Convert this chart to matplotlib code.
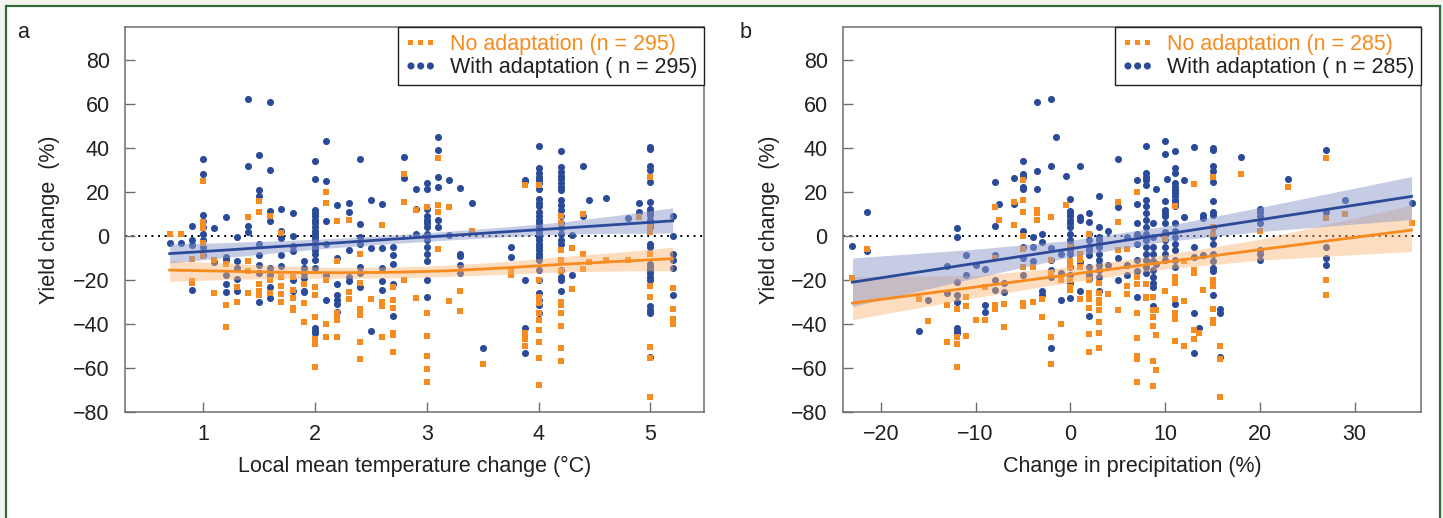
import numpy as np
import matplotlib.pyplot as plt
from matplotlib.patches import Rectangle

plt.rcParams['font.family'] = ['Liberation Sans', 'DejaVu Sans']

orange = '#f68b1f'
blue = '#2c4a9a'

# ---- panel a: local mean temperature change (deg C) ----
temp_x = [0.7, 0.8, 0.9, 1.0, 1.1, 1.2, 1.3, 1.4, 1.5, 1.6, 1.7, 1.8, 1.9, 2.0,
          2.1, 2.2, 2.3, 2.4, 2.5, 2.6, 2.7, 2.8, 2.9, 3.0, 3.1, 3.2, 3.3, 3.4,
          3.5, 3.75, 3.88, 4.0, 4.2, 4.3, 4.4, 4.45, 4.6, 4.8, 4.9, 5.0, 5.2]
temp_with = [
    [-3], [-3], [4.5, -2, -4, -24.5], [35, 28, 9.5, 7, 4, 1, -2, -5, -8.5],
    [3.5, -12], [8.5, -9.5, -11, -17.5, -22, -25.5], [-0.5, -11.5, -14.5, -19.5, -25],
    [62.5, 32, 4.5, 2], [37, 21, 18, -3.5, -8.5, -13, -17, -30],
    [61, 30, 11.5, 7, -14.5, -17.5, -23, -28], [12.5, 2.5, -1, -8.5, -13.5],
    [10.5, 0, -4.5, -7, -20, -25], [-11.5, -14.5, -17, -19, -25, -25.5],
    [34, 26, 12, 10.5, 9, 7.5, 6, 4, 2.5, 1, -0.5, -2, -3.5, -5, -6.5, -8, -11, -14.5, -42, -43, -44],
    [43, 25, 7, -3.5, -17.5, -29], [14, -10, -22, -27, -29, -31, -34.5],
    [15, 11, -6.5, -18.5, -20.5], [35, 5.5, -0.5, -3.5, -14, -17, -23],
    [16.5, -5.5, -43], [14.5, -5.5, -14.5, -20.5, -24.5], [-5, -8.5, -12.5, -22, -36.5],
    [36, 26.5], [21.5, 12.5, 1],
    [24, 21.5, 12.5, 9, 7.5, 6, 4, 1, -2, -5, -8, -11.5, -20, -27.5],
    [45, 39, 27, 22.5, 7.5, 4], [25.5, 0.5], [22, -8, -9, -13, -17], [15], [-51],
    [-5, -9.5], [25.5, 25, -20, -42, -53],
    [41, 31, 28.5, 27, 25.5, 24, 21.5, 17, 15, 13.5, 11, 9, 7.5, 6, 4, 2.5, 1, -0.5,
     -2, -3.5, -5, -6.5, -8, -9.5, -11, -15.5, -20, -26, -29, -31.5, -35],
    [38.5, 31.5, 29, 27.5, 26, 24, 22.5, 21, 16.5, 14, 12, 9, 6, 3.5, 1, -2, -3.5,
     -15.5, -18.5, -20, -25],
    [0.5, -17.5], [32, 9], [16.5], [17.5], [8], [15, 11],
    [40.5, 39.5, 32, 30, 24.5, 15.5, 12.5, 11, 9.5, 7.5, 6, 4, -3.5, -5, -12.5, -14,
     -15.5, -17, -18.5, -20, -32, -33.5, -35, -55],
    [9, 0, -8, -11, -14.5, -27],
]
temp_no = [
    [1], [1], [-10.5, -20.5, -21.5], [25, 6.5, 3.5, -3, -9], [-11, -26],
    [-12.5, -31.5, -41.5], [-23, -30], [8.5, -11.5, -16, -26], [16, 11, -22, -25, -27],
    [9, -20, -26], [1.5, -18.5, -22.5, -26.5, -30], [-18.5, -24.5, -28, -32.5, -33.5],
    [-22, -30.5, -39], [-23, -27, -37, -47, -49, -59.5], [20, 15, -20, -40, -46],
    [7, -11.5, -35, -37, -38, -46], [7.5, -25.5, -28.5], [-8, -21.5, -33, -36, -48, -56],
    [-28.5], [5, -30, -32, -46], [-23, -29, -32.5, -44, -45, -52.5], [28, 15.5, -20],
    [12, -28], [13, -35, -45.5, -54.5, -60.5, -66.5], [35.5, 14, 11, -6], [13, -29.5],
    [-25, -34], [2.5], [-58], [-16, -17.5], [23, -44, -47, -50],
    [23, -20, -27.5, -30.5, -35, -38, -42.5, -48, -55.5, -67.5],
    [9, 6, -6.5, -11, -16, -30, -31.5, -35, -41, -51, -57],
    [-5.5, -24], [10, -8, -15], [-12], [-11], [-11], [8.5],
    [27, 4, 2, -8, -22.5, -27.5, -50.5, -55.5, -73],
    [-23.5, -33, -37.5, -39, -40],
]

# regression fits and confidence bands
a_fit_x = [0.7, 1.2, 1.7, 2.2, 2.7, 3.2, 3.7, 4.2, 4.7, 5.2]
a_no_fit = [-15.5, -16.0, -16.5, -16.7, -16.5, -15.8, -14.5, -12.9, -11.6, -10.3]
a_no_lo = [-20.6, -19.8, -19.3, -19.2, -19.0, -18.4, -17.4, -16.3, -15.9, -15.8]
a_no_hi = [-11.2, -12.3, -13.6, -14.3, -14.1, -13.3, -11.6, -9.4, -7.4, -5.1]
a_with_fit = [-8.0, -6.4, -4.7, -3.1, -1.4, 0.2, 1.9, 3.5, 5.2, 6.9]
a_with_lo = [-12.3, -9.8, -7.4, -5.2, -3.4, -1.8, -0.4, 0.8, 1.2, 1.3]
a_with_hi = [-3.6, -3.0, -2.1, -1.0, 0.5, 2.2, 4.1, 6.3, 9.4, 12.8]

# ---- panel b: change in precipitation (%) ----
prec_x = [-23, -21.5, -16, -15, -13, -12, -11, -10, -9, -8, -7.5, -7, -6, -5, -4,
          -3.5, -3, -2, -1.5, -1, -0.5, 0, 1, 2, 3, 4, 5, 6, 7, 8, 8.7, 9, 10, 10.2,
          11, 12, 13, 13.6, 14, 15, 15.8, 18, 20, 23, 27, 29, 36]
prec_with = [
    [-4.5], [11, -7], [-43], [-29], [-13.5, -26], [3.5, -0.5, -21, -27, -30, -42, -43, -44],
    [-8.5, -17.5], [-13], [-15, -31.5, -34.5], [24.5, 4.5, -8.5, -20, -24.5], [14.5],
    [-21.5, -25.5], [14.5, 26.5], [34, 28, 27, 22.5, 21.5, 2.5, -5, -10, -17.5],
    [-0.5, -5, -11.5], [61, 29.5, 21.5], [1, -2.5, -25, -27],
    [62.5, 32, -5.5, -11, -15.5, -18.5, -51], [45], [-8, -17, -29], [27.5],
    [17, 11.5, 10.5, 9, 7.5, 6, 4, 1, -2, -4, -6.5, -8, -14, -17.5, -21.5, -28],
    [32, 8.5, 7.5, -12, -25],
    [10.5, 6.5, 1, -2, -5, -6.5, -8.5, -14, -17.5, -19.5, -36.5],
    [18, 4, -0.5, -2, -3.5, -5, -8, -11, -13, -15.5, -18.5, -25],
    [2.5, -13], [35, 13, -10, -20], [-0.5, -13, -17.5],
    [25.5, 14.5, 6, 1, -3.5, -11, -16, -27.5],
    [41, 28.5, 27, 25.5, 23, 16.5, 13.5, 10.5, 7.5, 4, 1, -2, -5, -8, -11, -14, -17],
    [6, -0.5, -5, -8, -11.5, -15.5, -18.5, -21.5, -23, -32], [21.5, -12.5],
    [43, 37.5, 16, 12, 10.5, 9, 6, 2, -2, -5, -8, -11], [26],
    [38.5, 31, 28.5, 24, 22.5, 21, 19.5, 18, 16.5, 15, 13.5, 6, 2.5, -0.5, -3.5, -6.5,
     -11, -14, -31],
    [25.5, 8.5], [40.5, -5, -9.5, -35, -53], [-42], [9.5, 8, -8.5],
    [40, 39, 32, 29.5, 24.5, 16, 11, 9.5, 4, -0.5, -3.5, -8, -11.5, -14.5, -16, -27],
    [-33, -35, -55], [36], [12.5, 11, 9, 6, -6.5, -8, -11], [26], [39, 11, -5, -10, -13],
    [16.5], [15],
]
prec_no = [
    [-19], [-6], [-28.5], [-38.5], [-31.5, -48], [-33, -46, -49, -59.5], [-27.5, -32, -45.5],
    [-38], [-23, -38], [13, -10, -31.5, -33], [7.5], [-31, -41.5], [5, 15.5],
    [25.5, 16.5, 11, 0, -6, -14, -30.5, -32], [-14, -30], [12, 10.5, 7.5], [-28.5, -37],
    [8.5, -11, -17, -46, -58], [], [-20, -40], [14],
    [-5, -11.5, -14, -20, -23, -24.5], [-8, -11, -14, -28.5],
    [1, -20, -26, -28.5, -32.5, -44.5, -52.5],
    [-21.5, -26, -29, -30.5, -33.5, -39, -44, -51],
    [-26.5], [15.5, 6.5, -6.5, -33.5], [-6, -22.5, -26.5],
    [20, -18.5, -22, -35, -46.5, -54.5, -56, -66.5], [-22, -27.5, -28],
    [-27.5, -33.5, -37, -41, -57, -68], [-33.5, -45, -61], [-1.5, -25], [],
    [13.5, -18.5, -21.5, -28.5, -35, -37.5, -47.5], [-11.5, -29.5, -50],
    [23.5, -15.5, -17, -42.5, -47], [-44], [-24.5],
    [27, 4, 1, -20, -22.5, -33, -38, -39.5], [-50, -56, -73], [28], [2.5], [22.5],
    [35.5, 8, -20, -27], [10], [6],
]

# regression fits and confidence bands
b_fit_x = [-23, -10, 0, 10, 20, 36]
b_no_fit = [-30.5, -23.2, -17.5, -11.9, -6.2, 2.7]
b_no_lo = [-38.0, -28.0, -21.0, -15.0, -11.0, -7.0]
b_no_hi = [-18.5, -18.0, -14.0, -8.5, -1.5, 14.0]
b_with_fit = [-21.0, -12.4, -5.8, 0.8, 7.4, 18.0]
b_with_lo = [-32.0, -19.0, -9.5, -2.5, 2.0, 7.5]
b_with_hi = [-10.0, -6.0, -2.0, 4.5, 13.0, 27.0]


def flatten(xs, cols):
    px, py = [], []
    for x, ys in zip(xs, cols):
        px += [x] * len(ys)
        py += ys
    return px, py


def draw(ax, xs, no_cols, with_cols, fx, no_fit, no_lo, no_hi, w_fit, w_lo, w_hi, n):
    wx, wy = flatten(xs, with_cols)
    nx, ny = flatten(xs, no_cols)
    ax.axhline(0, color='black', lw=1.4, ls=(0, (1, 2.4)), zorder=1)
    ax.scatter(wx, wy, s=26, color=blue, marker='o', lw=0, zorder=2,
               label='With adaptation ( n = %d)' % n)
    ax.scatter(nx, ny, s=13, color=orange, marker='s', lw=0, zorder=3,
               label='No adaptation (n = %d)' % n)
    ax.fill_between(fx, no_lo, no_hi, color='#fbb574', alpha=0.45, lw=0, zorder=4)
    ax.fill_between(fx, w_lo, w_hi, color='#8f9acb', alpha=0.5, lw=0, zorder=4)
    ax.plot(fx, no_fit, color=orange, lw=2, zorder=5)
    ax.plot(fx, w_fit, color=blue, lw=2, zorder=5)

    ax.set_ylim(-80, 95)
    ax.set_yticks([-80, -60, -40, -20, 0, 20, 40, 60, 80])
    ax.tick_params(direction='in', length=7, width=1, color='#6d6d6d',
                   labelsize=15.5, labelcolor='#231f20')
    ax.tick_params(axis='y', pad=11)
    ax.tick_params(axis='x', pad=9)
    for sp in ax.spines.values():
        sp.set_color('#6d6d6d')
        sp.set_linewidth(1.1)
    ax.set_ylabel('Yield change  (%)', fontsize=15.5, color='#231f20')

    # legend lists "No adaptation" first
    h, l = ax.get_legend_handles_labels()
    leg = ax.legend(h[::-1], l[::-1], loc='upper right', borderaxespad=0,
                    fontsize=15.5, scatterpoints=3, scatteryoffsets=[0.5],
                    handlelength=1.5, handletextpad=0.6, labelspacing=0.12,
                    borderpad=0.32, fancybox=False, framealpha=1,
                    edgecolor='#231f20')
    leg.get_frame().set_linewidth(1.0)
    leg.get_texts()[0].set_color(orange)
    leg.get_texts()[1].set_color('#231f20')


fig = plt.figure(figsize=(14.43, 5.18), dpi=100, facecolor='#f3f4ef')
fig.patches.append(Rectangle((6 / 1443, -0.02), 1434 / 1443, 1.02 - 6 / 518,
                             transform=fig.transFigure, facecolor='white',
                             edgecolor='#2f6b37', lw=1.6, zorder=-10))

ax1 = fig.add_axes([125 / 1443, 106 / 518, 579 / 1443, 385 / 518])
ax2 = fig.add_axes([843 / 1443, 106 / 518, 578 / 1443, 385 / 518])

draw(ax1, temp_x, temp_no, temp_with, a_fit_x, a_no_fit, a_no_lo, a_no_hi,
     a_with_fit, a_with_lo, a_with_hi, 295)
ax1.set_xlim(0.3, 5.48)
ax1.set_xticks([1, 2, 3, 4, 5])
ax1.set_xlabel('Local mean temperature change (°C)', fontsize=15.5, color='#231f20')
ax1.xaxis.set_label_coords(0.5, -0.115)
ax1.yaxis.set_label_coords(-0.112, 0.5)

draw(ax2, prec_x, prec_no, prec_with, b_fit_x, b_no_fit, b_no_lo, b_no_hi,
     b_with_fit, b_with_lo, b_with_hi, 285)
ax2.set_xlim(-24, 37)
ax2.set_xticks([-20, -10, 0, 10, 20, 30])
ax2.set_xlabel('Change in precipitation (%)', fontsize=15.5, color='#231f20')
ax2.xaxis.set_label_coords(0.5, -0.115)
ax2.yaxis.set_label_coords(-0.109, 0.5)

fig.text(17 / 1443, 1 - 38 / 518, 'a', fontsize=15.5, color='#231f20', va='baseline')
fig.text(740 / 1443, 1 - 38 / 518, 'b', fontsize=15.5, color='#231f20', va='baseline')

fig.savefig('out.png', dpi=100, facecolor=fig.get_facecolor())
